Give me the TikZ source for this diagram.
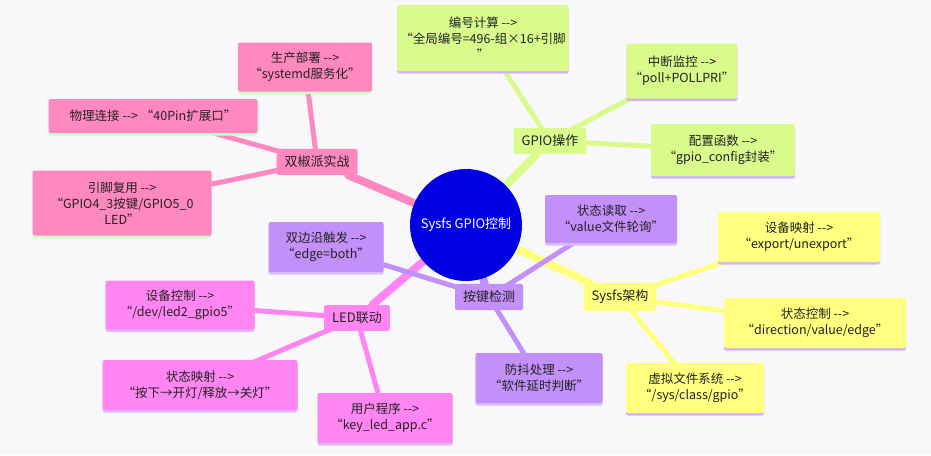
\documentclass[tikz,border=0pt]{standalone}
\usepackage{fontspec}
\setmainfont{Noto Sans CJK SC}[Ligatures=NoCommon]
\usetikzlibrary{backgrounds}
\definecolor{gC}{HTML}{D9FB8C}
\definecolor{yC}{HTML}{FFFF80}
\definecolor{pC}{HTML}{C38FF8}
\definecolor{mC}{HTML}{FF86F2}
\definecolor{rC}{HTML}{FF88C0}
\definecolor{bgC}{HTML}{F8F8FA}
\definecolor{txC}{HTML}{222222}
\newcommand{\arr}{{-}{-}>}
\tikzset{
 box/.style={fill=#1,rounded corners=2pt,align=center,text=txC,font=\fontsize{12.5}{16}\selectfont,inner sep=3pt},
 br/.style={fill=#1,rounded corners=2pt,text=txC,font=\fontsize{13}{16}\selectfont,inner xsep=8pt,inner ysep=7pt},
 sh/.style={preaction={fill=#1,transform canvas={yshift=-2.5pt}}},
 l1/.style={draw=#1,line width=8pt,line cap=round},
 l2/.style={draw=#1,line width=5pt,line cap=round},
}
\begin{document}
\begin{tikzpicture}[x=1pt,y=-1pt]
\useasboundingbox (0,0) rectangle (931,455);
\node[circle,fill=blue!88!black,minimum size=112pt,text=white,font=\fontsize{13}{16}\selectfont] (c) at (466,225) {Sysfs GPIO控制};
% branches
\node[br=gC] (g) at (550,141) {GPIO操作};
\node[br=yC] (y) at (620,297) {Sysfs架构};
\node[br=pC] (p) at (489,297) {按键检测};
\node[br=mC] (m) at (357,318) {LED联动};
\node[br=rC] (r) at (317,162) {双椒派实战};
% children
\node[box=gC,sh=pC!70,minimum width=167pt,minimum height=66pt] (g1) at (483,38) {编号计算 \arr\\“全局编号=496-组×16+引脚\\”};
\node[box=gC,sh=pC!70,minimum width=106pt,minimum height=55pt] (g2) at (682,71) {中断监控 \arr\\“poll+POLLPRI”};
\node[box=gC,sh=pC!70,minimum width=144pt,minimum height=52pt] (g3) at (723,150) {配置函数 \arr\\“gpio\_config封装”};
\node[box=yC,sh=pC!70,minimum width=162pt,minimum height=50pt] (y1) at (799,237) {设备映射 \arr\\“export/unexport”};
\node[box=yC,sh=pC!70,minimum width=182pt,minimum height=50pt] (y2) at (815,323) {状态控制 \arr\\“direction/value/edge”};
\node[box=yC,sh=pC!70,minimum width=138pt,minimum height=50pt] (y3) at (695,388) {虚拟文件系统 \arr\\“/sys/class/gpio”};
\node[box=pC,sh=pC!60,minimum width=132pt,minimum height=48pt] (p1) at (611,219) {状态读取 \arr\\“value文件轮询”};
\node[box=pC,sh=pC!60,minimum width=115pt,minimum height=50pt] (p2) at (326,247) {双边沿触发 \arr\\“edge=both”};
\node[box=pC,sh=pC!60,minimum width=127pt,minimum height=50pt] (p3) at (539,378) {防抖处理 \arr\\“软件延时判断”};
\node[box=mC,sh=pC!60,minimum width=149pt,minimum height=49pt] (m1) at (180,305) {设备控制 \arr\\“/dev/led2\_gpio5”};
\node[box=mC,sh=pC!60,minimum width=195pt,minimum height=50pt] (m2) at (200,385) {状态映射 \arr\\“按下→开灯/释放→关灯”};
\node[box=mC,sh=pC!60,minimum width=135pt,minimum height=50pt] (m3) at (385,418) {用户程序 \arr\\“key\_led\_app.c”};
\node[box=rC,sh=green!20,minimum width=134pt,minimum height=49pt] (r1) at (305,67) {生产部署 \arr\\“systemd服务化”};
\node[box=rC,sh=green!20,minimum width=209pt,minimum height=34pt] (r2) at (153,116) {物理连接 \arr{} “40Pin扩展口”};
\node[box=rC,sh=green!20,minimum width=179pt,minimum height=65pt] (r3) at (122,203) {引脚复用 \arr\\“GPIO4\_3按键/GPIO5\_0\\LED”};
\begin{pgfonlayer}{background}
\fill[bgC] (0,0) rectangle (931,455);
\draw[l1=gC] (c) -- (g);
\draw[l1=yC] (c) -- (y);
\draw[l1=pC] (c) -- (p);
\draw[l1=mC] (c) -- (m);
\draw[l1=rC] (c) -- (r);
\foreach \a in {g1,g2,g3} \draw[l2=gC] (g.center) -- (\a.center);
\foreach \a in {y1,y2,y3} \draw[l2=yC] (y.center) -- (\a.center);
\foreach \a in {p1,p2,p3} \draw[l2=pC] (p.center) -- (\a.center);
\foreach \a in {m1,m2,m3} \draw[l2=mC] (m.center) -- (\a.center);
\foreach \a in {r1,r2,r3} \draw[l2=rC] (r.center) -- (\a.center);
\end{pgfonlayer}
\end{tikzpicture}
\end{document}
